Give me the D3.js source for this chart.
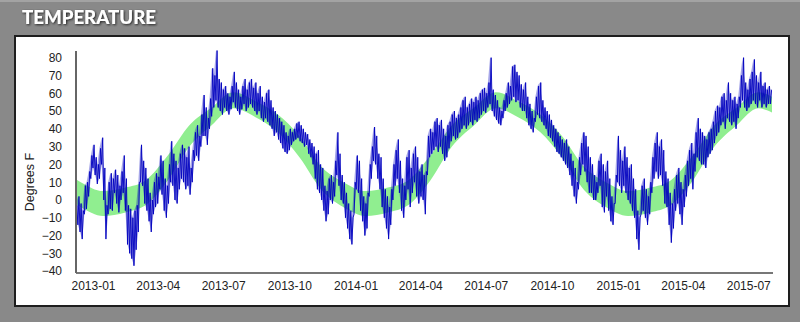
<!DOCTYPE html>
<html lang="en">
	<head>
		<meta charset="utf-8">
		<title>Temperature</title>
		<script type="text/javascript" src="https://d3js.org/d3.v7.min.js"></script>
		<style type="text/css">
			body {
				margin: 0;
				background: #898989;
			}
			.axis path {
				fill: none;
				shape-rendering: crispEdges;
			}
			.axis text {
				font-family: "Liberation Sans", Arial, sans-serif;
				font-size: 12px;
				fill: #222;
			}
		</style>
	</head>
	<body>
		<div id="temp"></div>

		<script type="text/javascript">

	// first sample day, one sample every 3 days
	var startDay = "2012-12-08"
	var stepDays = 3

	// daily high / low (deg F), one pair per 3 days
	var hi = [
		-3, 2, -2, -6, 8, 10, 16, 25, 31, 24,
		20, 29, 35, 18, -3, 10, 15, 12, 17, 14,
		8, 16, 25, 12, -3, -5, -10, -6, -3, 10,
		31, 22, 18, 12, 4, 0, 10, 15, 13, 25,
		22, 12, 8, 20, 33, 26, 22, 18, 26, 31,
		29, 24, 30, 18, 28, 38, 42, 36, 48, 59,
		52, 46, 57, 74, 70, 84, 68, 66, 62, 64,
		60, 58, 64, 72, 66, 62, 58, 64, 68, 62,
		66, 68, 63, 66, 60, 64, 58, 55, 60, 62,
		56, 52, 50, 48, 46, 44, 42, 38, 36, 40,
		38, 40, 43, 44, 42, 40, 38, 37, 34, 32,
		30, 26, 28, 20, 18, 8, 5, 12, 14, 10,
		22, 38, 26, 14, 10, 4, -2, -6, -10, 10,
		25, 22, 12, 2, -2, 4, 20, 30, 41, 36,
		26, 24, 12, 6, 2, -4, 6, 20, 28, 34,
		22, 12, 8, 24, 28, 18, 26, 30, 24, 16,
		20, 14, 16, 36, 40, 38, 44, 46, 42, 45,
		40, 36, 42, 44, 48, 50, 46, 48, 52, 56,
		58, 52, 54, 57, 55, 58, 56, 60, 62, 63,
		60, 66, 80, 62, 59, 56, 52, 50, 56, 60,
		66, 64, 75, 76, 72, 70, 65, 62, 66, 58,
		54, 50, 46, 58, 64, 66, 56, 52, 50, 48,
		45, 42, 40, 38, 36, 34, 32, 34, 30, 26,
		22, 18, 10, 24, 32, 38, 36, 30, 24, 20,
		14, 10, 22, 26, 20, 16, 22, 12, 2, -2,
		14, 36, 28, 22, 30, 24, 18, 20, 12, 6,
		-6, -10, 8, 12, 6, 2, 10, 24, 32, 38,
		30, 34, 28, 16, 12, 4, -2, 6, 14, 18,
		10, 6, 14, 22, 28, 32, 26, 38, 46, 40,
		38, 36, 34, 38, 40, 44, 50, 53, 52, 58,
		60, 56, 66, 60, 56, 58, 54, 58, 70, 80,
		66, 62, 68, 72, 79, 70, 66, 72, 64, 66,
		62, 64, 62
	]
	var lo = [
		-10, -14, -18, -22, -8, -5, 2, 12, 18, 14,
		9, 12, 20, 0, -22, -8, -5, -6, 4, -2,
		-7, 0, 4, -6, -25, -30, -33, -37, -28, -18,
		10, 8, -2, -6, -12, -18, -8, -4, -2, 6,
		3, -6, -10, -2, 10, 8, 0, -2, 6, 12,
		10, 6, 8, 3, 10, 22, 25, 22, 30, 36,
		36, 31, 40, 47, 52, 56, 52, 50, 48, 52,
		50, 48, 51, 55, 52, 50, 48, 51, 54, 50,
		52, 54, 52, 50, 48, 50, 46, 44, 46, 44,
		42, 40, 36, 38, 34, 32, 29, 27, 26, 28,
		31, 33, 34, 35, 33, 32, 30, 31, 26, 24,
		20, 12, 6, 4, 0, -6, -12, -8, 0, -2,
		2, 14, 8, 0, -2, -10, -16, -22, -25, -8,
		6, 4, -6, -12, -20, -16, 2, 12, 22, 20,
		12, 6, -4, -10, -16, -22, -14, 0, 8, 12,
		4, -6, -10, 0, 6, -4, 4, 10, 2, -2,
		2, 0, -8, 14, 24, 26, 28, 30, 27, 30,
		26, 22, 24, 29, 33, 36, 34, 35, 38, 40,
		42, 40, 42, 44, 42, 45, 44, 46, 48, 50,
		49, 52, 54, 50, 47, 45, 43, 42, 46, 50,
		52, 54, 56, 58, 55, 56, 52, 50, 50, 46,
		42, 40, 38, 44, 48, 46, 44, 42, 40, 36,
		35, 33, 30, 27, 26, 24, 22, 20, 18, 14,
		8, 2, -2, 6, 14, 20, 16, 10, 4, 4,
		0, 0, 4, 8, -4, -7, 2, -6, -12, -14,
		-2, 10, 8, 4, 8, 4, 0, -2, -6, -10,
		-22, -28, -8, -6, -10, -14, -8, 4, 12, 16,
		12, 14, 8, -2, -4, -14, -24, -16, -6, -2,
		-8, -14, -4, 2, 8, 12, 6, 16, 24, 22,
		20, 20, 18, 24, 26, 28, 32, 36, 38, 42,
		44, 40, 46, 44, 42, 44, 40, 46, 52, 56,
		52, 50, 52, 54, 56, 54, 52, 56, 52, 54,
		52, 54, 54
	]

	// the green "normal" band, mid month low / high (Jan..Dec)
	var normLow  = [-9, -7, -3, 11, 30, 42, 51.5, 46.5, 38, 24, 5.5, -4]
	var normHigh = [5, 7, 11, 25, 42, 52, 60.5, 55.5, 48, 36, 18.5, 10]
	var bandYears = [2012, 2013, 2014, 2015]

	var yTicks = [-40, -30, -20, -10, 0, 10, 20, 30, 40, 50, 60, 70, 80]
	var xDomain = ["2012-12-07", "2015-08-03"]
	var yDomain = [-40.5, 84.3]

	drawTemp()

	function drawTemp(){
		var w = 800
		var h = 322
		var left = 75, right = 772, top = 50, bottom = 272
		var parse = d3.utcParse("%Y-%m-%d")

		var svg = d3.select("#temp")
			.append("svg")
			.attr("width", w)
			.attr("height", h)
			.style("display", "block")

		var defs = svg.append("defs")
		defs.append("filter")
			.attr("id", "shadow")
			.attr("x", "-10%").attr("y", "-30%")
			.attr("width", "120%").attr("height", "160%")
			.append("feDropShadow")
			.attr("dx", 1).attr("dy", 1)
			.attr("stdDeviation", 0.8)
			.attr("flood-color", "#1a1a1a")
			.attr("flood-opacity", 0.95)
		defs.append("clipPath")
			.attr("id", "plot")
			.append("rect")
			.attr("x", left).attr("y", top)
			.attr("width", right - left).attr("height", bottom - top)

		// light line along the very top
		svg.append("rect")
			.attr("x", 0).attr("y", 0)
			.attr("width", w).attr("height", 2)
			.style("fill", "#a3a3a3")

		svg.append("text")
			.attr("x", 22)
			.attr("y", 24)
			.attr("textLength", 134)
			.attr("lengthAdjust", "spacingAndGlyphs")
			.style("font-family", "Lato, 'Open Sans', sans-serif")
			.style("font-weight", 900)
			.style("font-size", "19px")
			.style("fill", "#fff")
			.attr("filter", "url(#shadow)")
			.text("TEMPERATURE")

		// white panel
		svg.append("rect")
			.attr("x", 15).attr("y", 36)
			.attr("width", 774).attr("height", 270)
			.style("fill", "#fff")
			.style("stroke", "#1e1e1e")
			.style("stroke-width", 2)

		var xScale = d3.scaleUtc()
			.domain(xDomain.map(parse))
			.range([left, right])

		var yScale = d3.scaleLinear()
			.domain(yDomain)
			.range([bottom, top])

		// green band, one point mid month for every year
		var band = []
		bandYears.forEach(function(yr){
			normLow.forEach(function(v, m){
				band.push({d: new Date(Date.UTC(yr, m, 15)), lo: v, hi: normHigh[m]})
			})
		})
		band = band.filter(function(b){
			return b.d >= parse("2012-11-01") && b.d <= parse("2015-09-30")
		})

		var area = d3.area()
			.x(function(d){ return xScale(d.d) })
			.y0(function(d){ return yScale(d.lo) })
			.y1(function(d){ return yScale(d.hi) })
			.curve(d3.curveMonotoneX)

		var plot = svg.append("g").attr("clip-path", "url(#plot)")

		plot.append("path")
			.datum(band)
			.attr("d", area)
			.style("fill", "#90ee90")

		// blue trace: low then high for each sample so it zigzags like the hourly data
		var start = parse(startDay)
		var samples = hi.map(function(v, i){
			return {d: d3.utcHour.offset(start, i * stepDays * 24), lo: lo[i], hi: v}
		})
		var pts = []
		samples.forEach(function(s){
			pts.push({d: s.d, v: s.lo})
			pts.push({d: d3.utcHour.offset(s.d, stepDays * 12), v: s.hi})
		})

		// faint fill between the lows and highs so the core reads dense
		plot.append("path")
			.datum(samples)
			.attr("d", d3.area()
				.x(function(d){ return xScale(d.d) })
				.y0(function(d){ return yScale(d.lo) })
				.y1(function(d){ return yScale(d.hi) }))
			.style("fill", "#0000c0")
			.style("opacity", 0.35)

		var line = d3.line()
			.x(function(d){ return xScale(d.d) })
			.y(function(d){ return yScale(d.v) })

		plot.append("path")
			.datum(pts)
			.attr("d", line)
			.style("fill", "none")
			.style("stroke", "#0000bf")
			.style("stroke-width", 1)
			.style("stroke-opacity", 0.9)

		var xAxis = d3.axisBottom(xScale)
			.ticks(d3.utcMonth.every(3))
			.tickFormat(d3.utcFormat("%Y-%m"))
			.tickSize(0)
			.tickPadding(9.5)

		var yAxis = d3.axisLeft(yScale)
			.tickValues(yTicks)
			.tickSize(0)
			.tickPadding(13)

		svg.append("g")
			.attr("class", "axis")
			.attr("transform", "translate(0," + bottom + ")")
			.call(xAxis)
			.select(".domain")
			.style("stroke", "#777")
			.style("stroke-width", 2)

		svg.append("g")
			.attr("class", "axis")
			.attr("transform", "translate(" + left + ",0)")
			.call(yAxis)
			.select(".domain")
			.style("stroke", "#666")
			.style("stroke-width", 2)

		svg.append("text")
			.attr("transform", "translate(34,182) rotate(-90)")
			.attr("text-anchor", "middle")
			.style("font-family", "'Liberation Sans', Arial, sans-serif")
			.style("font-size", "12.5px")
			.style("fill", "#222")
			.text("Degrees F")
	}

		</script>
	</body>
</html>
